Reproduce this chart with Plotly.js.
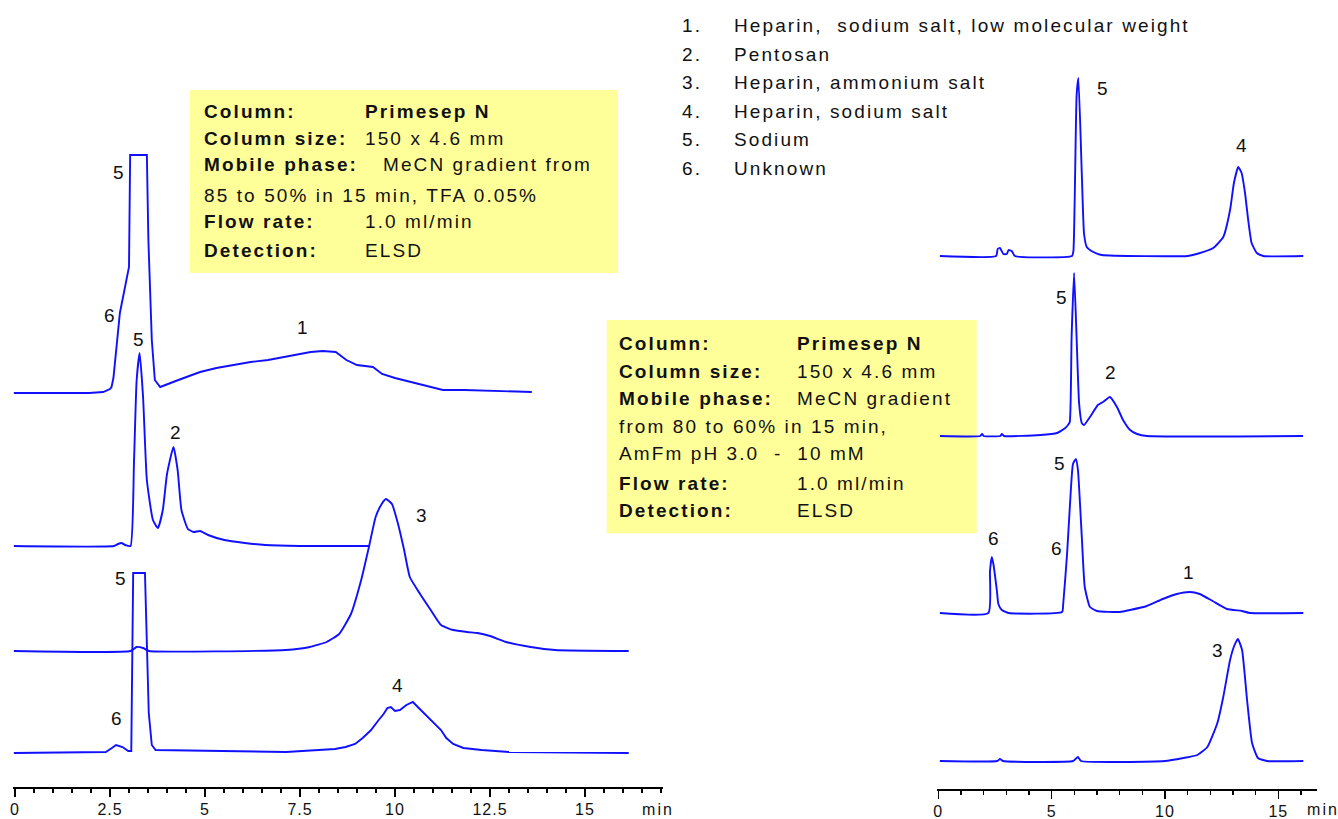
<!DOCTYPE html>
<html><head><meta charset="utf-8">
<script src="https://cdn.plot.ly/plotly-3.0.1.min.js"></script>
<style>
html,body{margin:0;padding:0;background:#fff;}
#chart{width:1338px;height:819px;}
text.annotation-text{letter-spacing:2.1px;}
.xtick text,.x2tick text{letter-spacing:1px;}
</style>
</head><body><div id="chart"></div>
<script>
// ---------- DATA (time in min, detector signal in arbitrary units) ----------
// Left panel: MeCN 85->50%, TFA 0.05%
const leftA_t = [-0.03,1.95,2.32,2.5,2.54,2.59,2.76,3.0,3.03,3.47,3.51,3.6,3.68,3.82,4.3,4.87,5.3,5.71,6.2,6.66,7.3,7.78,8.1,8.44,8.72,9.0,9.42,9.66,10.0,10.41,10.9,11.26,11.82,12.76,13.6];
const leftA_y = [0,0,1,4,6,15,80,126,238,238,153,53,13,6,13,21,25,28,31,33,38,41,42,41,33,28,26,19,15,11,6,3,3,2,1];

const leftB_t = [-0.03,2.6,2.71,2.8,2.9,3.04,3.13,3.2,3.28,3.37,3.47,3.63,3.76,3.89,4.0,4.17,4.28,4.38,4.55,4.7,4.87,5.08,5.51,6.05,6.58,7.5,9.32];
const leftB_y = [0,0,2,3,1,0,82,165,193,149,66,26,18,36,72,99,76,36,17,14,15,11,6,3,1,0,0];

const leftC_t = [-0.03,3.04,3.2,3.37,3.53,7.13,7.76,8.2,8.53,8.84,9.11,9.32,9.49,9.65,9.76,9.92,10.08,10.24,10.39,10.66,10.94,11.21,11.53,11.9,12.17,12.5,12.92,13.57,14.21,16.15];
const leftC_y = [0,0,4,3,0,1,4,9,17,37,71,105,134,147,152,147,127,101,74,57,41,26,21,19,18,15,9,4,1,0];

const leftD_t = [-0.03,2.39,2.55,2.66,2.83,2.98,3.06,3.11,3.42,3.46,3.52,3.6,3.7,7.13,8.42,8.7,8.95,9.15,9.37,9.55,9.7,9.8,9.89,10.0,10.13,10.3,10.47,10.6,10.78,11.0,11.21,11.35,11.53,11.8,12.28,13.0,16.15];
const leftD_y = [0,1,5,8,6,2,2,180,180,120,40,8,3,1,4,6,9,15,23,32,39,45,46,42,43,48,51,46,39,31,23,15,9,5,3,1,0];

// Right panel: MeCN 80->60%, AmFm pH 3.0 10 mM
const rightA_t = [0.07,2.55,2.62,2.72,2.87,3.02,3.1,3.24,3.38,5.9,5.96,6.1,6.18,6.33,6.43,6.55,6.84,7.21,11.0,11.4,12.13,12.57,12.87,13.04,13.23,13.38,13.53,13.67,13.82,14.05,14.34,16.1];
const rightA_y = [0,0,7,8,2,2,6,5,0,0,5,160,178,82,22,9,4,1,0,2,8,19,46,73,89,83,63,36,13,3,0,0];

const rightB_t = [0.07,1.85,1.93,2.0,2.73,2.81,2.9,4.5,5.24,5.6,5.72,5.8,5.88,5.99,6.1,6.21,6.33,6.43,6.69,7.04,7.27,7.57,7.88,8.15,8.46,8.77,9.2,16.09];
const rightB_y = [0,0,2,0,0,2,0,1,3,8,11,14,99,163,99,33,13,11,19,31,34,39,29,16,6,2,0,0];

const rightC_t = [0.07,2.21,2.28,2.36,2.43,2.58,2.65,2.8,3.1,5.46,5.51,5.68,5.81,5.94,6.07,6.16,6.33,6.46,6.69,7.0,8.0,8.46,9.2,9.9,10.52,11.09,11.53,12.1,12.73,13.39,13.75,16.1];
const rightC_y = [0,0,42,56,49,23,9,3,0,1,9,59,109,149,154,143,76,26,6,2,1,3,7,14,19,21,19,12,4,2,0,0];

const rightD_t = [0.07,2.6,2.72,2.85,5.95,6.1,6.16,6.3,10.0,10.81,11.43,11.87,12.31,12.57,12.87,13.05,13.18,13.22,13.4,13.62,13.84,14.1,14.5,16.1];
const rightD_y = [0,0,2,0,0,3,4,0,0,3,6,14,38,64,101,115,121,122,111,61,18,3,0,0];

const compounds = ['Heparin,  sodium salt, low molecular weight','Pentosan','Heparin, ammonium salt','Heparin, sodium salt','Sodium','Unknown'];
const compoundNumbers = ['1.','2.','3.','4.','5.','6.'];

const boxLeftLabels = ['Column:','Column size:','Mobile phase:','','Flow rate:','Detection:'];
const boxLeftValues = ['<b>Primesep N</b>','150 x 4.6 mm','MeCN gradient from','85 to 50% in 15 min, TFA 0.05%','1.0 ml/min','ELSD'];
const boxRightLabels = ['Column:','Column size:','Mobile phase:','','','Flow rate:','Detection:'];
const boxRightValues = ['<b>Primesep N</b>','150 x 4.6 mm','MeCN gradient','from 80 to 60% in 15 min,','AmFm pH 3.0  -  10 mM','1.0 ml/min','ELSD'];

// peak labels: [text, pixel x, pixel y]
const peakLabelsLeft = [['5',119,172],['6',110,315],['1',303,327],['5',139,339],['2',176,432],['3',422,515],['5',121,578],['6',117,718],['4',399,685]];
const peakLabelsRight = [['5',1103,88],['4',1242,145],['5',1062,297],['2',1111,373],['5',1060,463],['6',1057,548],['6',994,538],['1',1189,572],['3',1218,650]];

// ---------- LAYOUT ----------
const W = 1338, H = 819;
const F = 'Liberation Sans, Arial, Helvetica, sans-serif';
const BLUE = '#1010ff';
// baselines (in y-axis units measured from the bottom of the figure)
const leftBase = [426, 273, 168, 66];
const rightBase = [563, 383, 206, 58];

function shift(arr, b){ return arr.map(v => v + b); }
function trace(t, y, base, xa, shape){
  return {x: t, y: shift(y, base), xaxis: xa, yaxis: 'y', type: 'scatter', mode: 'lines',
    line: {color: BLUE, width: 1.9, shape: shape || 'spline', smoothing: 0.45}, hoverinfo: 'skip'};
}
const data = [
  trace(leftA_t, leftA_y, leftBase[0], 'x', 'linear'),
  trace(leftB_t, leftB_y, leftBase[1], 'x'),
  trace(leftC_t, leftC_y, leftBase[2], 'x'),
  trace(leftD_t, leftD_y, leftBase[3], 'x', 'linear'),
  trace(rightA_t, rightA_y, rightBase[0], 'x2'),
  trace(rightB_t, rightB_y, rightBase[1], 'x2'),
  trace(rightC_t, rightC_y, rightBase[2], 'x2'),
  trace(rightD_t, rightD_y, rightBase[3], 'x2')
];

function ann(px, py, s, o){
  return Object.assign({xref:'paper', yref:'paper', x: px / W, y: 1 - py / H, text: s, showarrow: false,
    xanchor: 'left', yanchor: 'middle', borderpad: 0, borderwidth: 0,
    font: {family: F, size: 19, color: '#111'}}, o || {});
}
const annotations = [];
// legend list
const legRows = [25.5, 54.1, 82.7, 111.3, 139.9, 168.5];
compounds.forEach((c, i) => {
  annotations.push(ann(682, legRows[i], compoundNumbers[i]));
  annotations.push(ann(734, legRows[i], c));
});
// left box
const lRows = [111.7, 138.3, 165, 195, 221.7, 250];
const lValX = [365, 365, 383, 204, 365, 365];
boxLeftLabels.forEach((s, i) => { if (s) annotations.push(ann(204, lRows[i], '<b>' + s + '</b>')); });
boxLeftValues.forEach((s, i) => annotations.push(ann(lValX[i], lRows[i], s)));
// right box
const rRows = [343.3, 371.7, 398.3, 426.7, 453.3, 483.3, 510];
const rValX = [797, 797, 797, 619, 619, 797, 797];
boxRightLabels.forEach((s, i) => { if (s) annotations.push(ann(619, rRows[i], '<b>' + s + '</b>')); });
boxRightValues.forEach((s, i) => annotations.push(ann(rValX[i], rRows[i], s)));
// peak labels
peakLabelsLeft.concat(peakLabelsRight).forEach(p => annotations.push(ann(p[1], p[2], p[0], {xanchor: 'center'})));
// unit labels
annotations.push(ann(658, 809, 'min', {xanchor: 'center', font: {family: F, size: 16, color: '#111'}}));
annotations.push(ann(1323, 809, 'min', {xanchor: 'center', font: {family: F, size: 16, color: '#111'}}));

const shapes = [
  {type: 'rect', xref: 'paper', yref: 'paper', layer: 'below', x0: 190 / W, x1: 618 / W, y0: 1 - 273 / H, y1: 1 - 90 / H,
   fillcolor: '#ffff99', line: {width: 0}},
  {type: 'rect', xref: 'paper', yref: 'paper', layer: 'below', x0: 606.7 / W, x1: 976.7 / W, y0: 1 - 533.3 / H, y1: 1 - 320 / H,
   fillcolor: '#ffff99', line: {width: 0}}
];

// axes: left 0 min at px 15, 38 px/min ; right 0 min at px 938.3, 22.67 px/min
const lRange = [-0.05, 17.05], rRange = [-0.07, 16.69];
const lPx = r => 15 + 38 * r, rPx = r => 938.3 + 22.67 * r;
function xax(range, dom, pos, dtick, minor){
  return {range: range, domain: dom, anchor: 'free', position: pos, showgrid: false, zeroline: false,
    showline: true, linecolor: '#000', linewidth: 1.6, ticks: 'outside', ticklen: 8, tickwidth: 1.5, tickcolor: '#000',
    tick0: 0, dtick: dtick, tickfont: {family: F, size: 16, color: '#111'}, automargin: false, fixedrange: true,
    ticklabelstandoff: -1,
    minor: {dtick: minor, tick0: 0, ticks: 'outside', ticklen: 4, tickwidth: 1.3, tickcolor: '#000', showgrid: false}};
}
const layout = {
  width: W, height: H, margin: {l: 0, r: 0, t: 0, b: 0}, paper_bgcolor: '#fff', plot_bgcolor: 'rgba(0,0,0,0)',
  showlegend: false, hovermode: false,
  xaxis: xax(lRange, [lPx(lRange[0]) / W, lPx(lRange[1]) / W], (H - 787.3) / H, 2.5, 0.5),
  xaxis2: xax(rRange, [rPx(rRange[0]) / W, rPx(rRange[1]) / W], (H - 789.3) / H, 5, 1),
  yaxis: {range: [0, H], domain: [0, 1], visible: false, fixedrange: true},
  annotations: annotations, shapes: shapes
};
Plotly.newPlot('chart', data, layout, {staticPlot: true, displayModeBar: false});
</script>
</body></html>
